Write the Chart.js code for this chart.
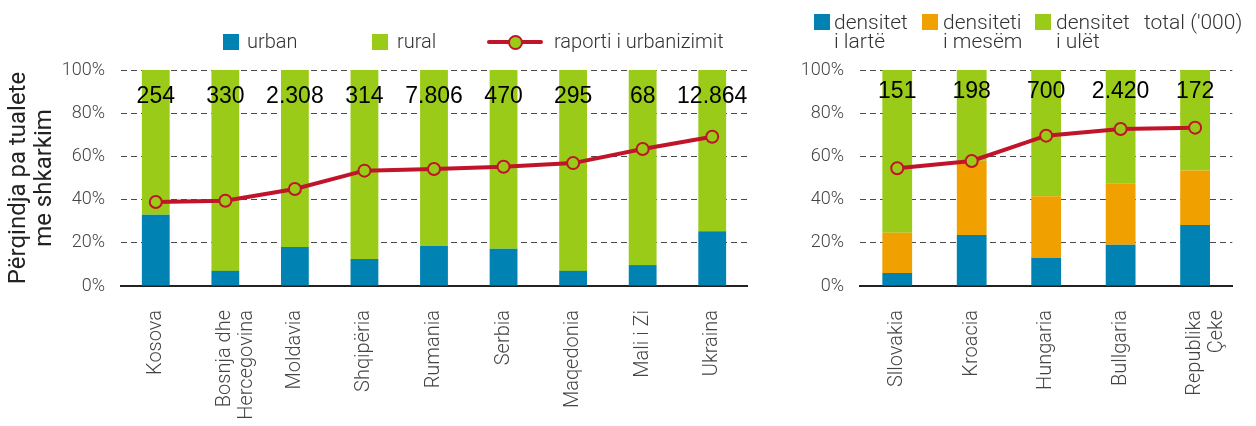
<!DOCTYPE html>
<html>
<head>
<meta charset="utf-8">
<script src="https://cdn.jsdelivr.net/npm/chart.js@4.4.1/dist/chart.umd.min.js"></script>
<style>
  body { margin: 0; background: #fff; }
  #wrap { position: relative; width: 1256px; height: 426px; font-family: Roboto, sans-serif; font-weight: 300; color: #333; }
  .box { position: absolute; width: 16px; height: 16px; }
  .lg { position: absolute; font-size: 20px; line-height: 19px; white-space: nowrap; }
</style>
</head>
<body>
<div id="wrap">
  <div style="position:absolute;left:0;top:0;width:765px;height:426px"><canvas id="leftChart"></canvas></div>
  <div style="position:absolute;left:765px;top:0;width:491px;height:426px"><canvas id="rightChart"></canvas></div>

  <!-- legjenda majtas -->
  <div class="box" style="left:223px;top:34px;background:#0083B2"></div>
  <div class="lg" style="left:247px;top:32px">urban</div>
  <div class="box" style="left:372px;top:34px;background:#9BCB19"></div>
  <div class="lg" style="left:397px;top:32px">rural</div>
  <div style="position:absolute;left:487px;top:40px;width:56px;height:4px;background:#C0142B;border-radius:2px"></div>
  <div style="position:absolute;left:508px;top:35px;width:11px;height:11px;border:2px solid #C0142B;border-radius:50%;background:#9BCB19"></div>
  <div class="lg" style="left:554px;top:32px">raporti i urbanizimit</div>

  <!-- legjenda djathtas -->
  <div class="box" style="left:814px;top:14px;background:#0083B2"></div>
  <div class="lg" style="left:834px;top:13px;font-size:21px">densitet<br>i lartë</div>
  <div class="box" style="left:922px;top:14px;background:#F0A100"></div>
  <div class="lg" style="left:943px;top:13px;font-size:21px">densiteti<br>i mesëm</div>
  <div class="box" style="left:1035px;top:14px;background:#9BCB19"></div>
  <div class="lg" style="left:1056px;top:13px;font-size:21px">densitet<br>i ulët</div>
  <div class="lg" style="left:1144px;top:13px;font-size:21px">total ('000)</div>
</div>
<script>
// Vendet e Ballkanit
const vendetMajtas = ["Kosova", ["Bosnja dhe", "Hercegovina"], "Moldavia", "Shqipëria", "Rumania", "Serbia", "Maqedonia", "Mali i Zi", "Ukraina"];
const urban = [33, 7, 18, 12.5, 18.5, 17.3, 7, 9.7, 25.3];
const rural = [67, 93, 82, 87.5, 81.5, 82.7, 93, 90.3, 74.7];
const raportiMajtas = [38.9, 39.5, 44.9, 53.4, 54.2, 55.2, 56.9, 63.4, 69.1];
const totalMajtas = ["254", "330", "2.308", "314", "7.806", "470", "295", "68", "12.864"];

// Vendet e Europës Qendrore
const vendetDjathtas = ["Sllovakia", "Kroacia", "Hungaria", "Bullgaria", ["Republika", "Çeke"]];
const densLarte = [6, 23.6, 13.1, 19.1, 28.2];
const densMesem = [18.7, 34.4, 28.5, 28.5, 25.3];
const densUlet = [75.3, 42, 58.4, 52.4, 46.5];
const raportiDjathtas = [54.5, 57.9, 69.6, 72.7, 73.3];
const totalDjathtas = ["151", "198", "700", "2.420", "172"];

const BLU = "#0083B2", JESHIL = "#9BCB19", PORT = "#F0A100", KUQ = "#C0142B";

const totalsPlugin = {
  id: "totals",
  afterDatasetsDraw(chart, args, opts) {
    const { ctx, scales: { x, y } } = chart;
    ctx.save();
    ctx.font = '23px "Liberation Sans", Arial, sans-serif';
    ctx.fillStyle = "#000";
    ctx.textAlign = "center";
    ctx.textBaseline = "middle";
    opts.labels.forEach((t, i) => ctx.fillText(t, x.getPixelForValue(i), y.getPixelForValue(opts.at)));
    ctx.restore();
  }
};

function barSet(label, data, color) {
  return { type: "bar", label: label, data: data, backgroundColor: color, borderWidth: 0,
    barPercentage: 0.4, categoryPercentage: 1, stack: "s", order: 2 };
}

function lineSet(data) {
  return { type: "line", label: "raporti", data: data, borderColor: KUQ, borderWidth: 4,
    pointRadius: 6, pointBorderWidth: 2, pointBackgroundColor: JESHIL, pointBorderColor: KUQ,
    stack: "l", order: 0, tension: 0 };
}

function makeOptions(yWidth, padRight, withTitle, labels, at) {
  return {
    responsive: true,
    maintainAspectRatio: false,
    animation: false,
    layout: { padding: { top: 70, right: padRight, left: 0, bottom: 0 } },
    plugins: { legend: { display: false }, tooltip: { enabled: false }, totals: { labels: labels, at: at } },
    scales: {
      x: {
        stacked: true,
        grid: { display: false },
        border: { display: true, color: "#222", width: 2 },
        ticks: { autoSkip: false, maxRotation: 90, minRotation: 90, padding: 16, color: "#444",
          font: { family: "Roboto", weight: "300", size: 20, lineHeight: 1.1 } },
        afterFit: (s) => { s.height = 140; }
      },
      y: {
        stacked: true,
        min: 0, max: 100,
        ticks: { stepSize: 20, padding: 16, color: "#444", callback: (v) => v + "%",
          font: { family: "Roboto", weight: "300", size: 18 } },
        grid: { color: "#4a4a4a", lineWidth: 1, drawTicks: false },
        border: { display: false, dash: [6, 4] },
        title: { display: withTitle, text: ["Përqindja pa tualete", "me shkarkim"], color: "#222",
          padding: { top: 6, bottom: 0 }, font: { family: "Roboto", size: 24, lineHeight: 1.08 } },
        afterFit: (s) => { s.width = yWidth; }
      }
    }
  };
}

new Chart(document.getElementById("leftChart"), {
  data: {
    labels: vendetMajtas,
    datasets: [lineSet(raportiMajtas), barSet("urban", urban, BLU), barSet("rural", rural, JESHIL)]
  },
  options: makeOptions(121, 18, true, totalMajtas, 87.5),
  plugins: [totalsPlugin]
});

new Chart(document.getElementById("rightChart"), {
  data: {
    labels: vendetDjathtas,
    datasets: [lineSet(raportiDjathtas), barSet("densitet i lartë", densLarte, BLU),
      barSet("densiteti i mesëm", densMesem, PORT), barSet("densitet i ulët", densUlet, JESHIL)]
  },
  options: makeOptions(95, 9, false, totalDjathtas, 90),
  plugins: [totalsPlugin]
});
</script>
</body>
</html>
